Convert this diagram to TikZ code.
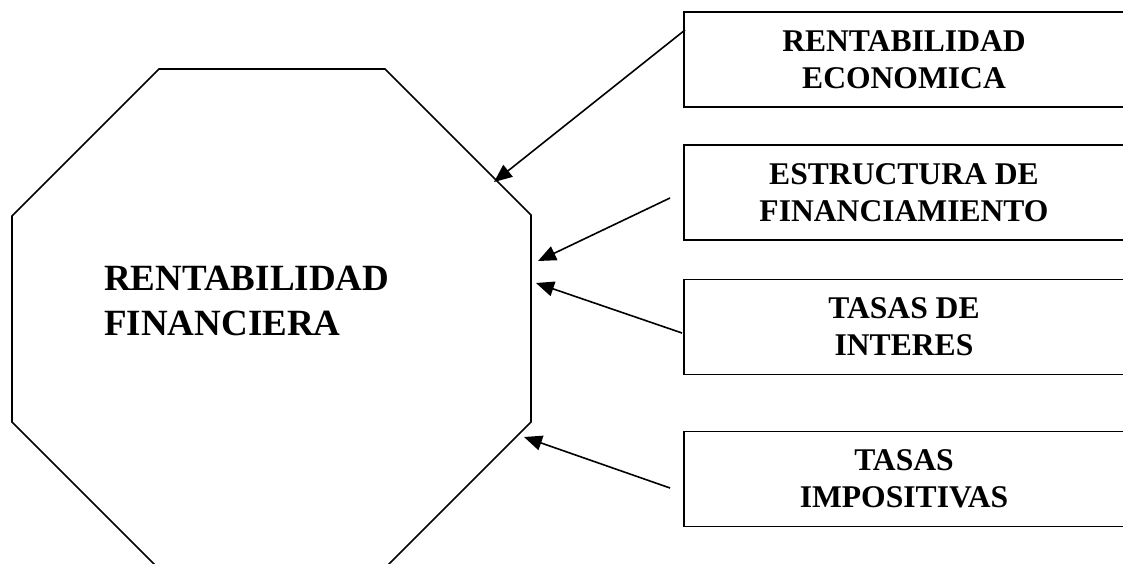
\documentclass[tikz,border=0pt]{standalone}
\usepackage{fontspec}
\setmainfont{Liberation Serif}
\usetikzlibrary{arrows.meta}
\begin{document}
\begin{tikzpicture}[x=1pt,y=-1pt,
  octa/.style={draw, line width=1.6pt, line join=miter},
  factor/.style={draw, line width=1.8pt, minimum width=440pt, minimum height=95pt,
    inner sep=0pt, align=center, font=\bfseries\fontsize{31.6}{37}\selectfont},
  maintext/.style={inner sep=0pt, align=left, font=\bfseries\fontsize{37}{45}\selectfont},
  conn/.style={line width=1.6pt, -{Triangle[length=18pt,width=15pt]}}]
\useasboundingbox (0,0) rectangle (1123,564);
\draw[octa] (159,69) -- (385,69) -- (531,215) -- (531,422) -- (384,569)
  -- (159,569) -- (12,422) -- (12,216) -- cycle;
\node[maintext, anchor=north west] (main) at (104,266) {RENTABILIDAD\\FINANCIERA};
\node[factor] (b1) at (904,59.5) {RENTABILIDAD\\ECONOMICA};
\node[factor] (b2) at (904,192.5) {ESTRUCTURA DE\\FINANCIAMIENTO};
\node[factor] (b3) at (904,327) {TASAS DE\\INTERES};
\node[factor] (b4) at (904,479) {TASAS\\IMPOSITIVAS};
\coordinate (s1) at (685,30);  \coordinate (t1) at (494,182);
\coordinate (s2) at (670,198); \coordinate (t2) at (538,261);
\coordinate (s3) at (682,333); \coordinate (t3) at (536,283);
\coordinate (s4) at (670,488); \coordinate (t4) at (524,437);
\draw[conn] (s1) -- (t1);
\draw[conn] (s2) -- (t2);
\draw[conn] (s3) -- (t3);
\draw[conn] (s4) -- (t4);
\end{tikzpicture}
\end{document}
